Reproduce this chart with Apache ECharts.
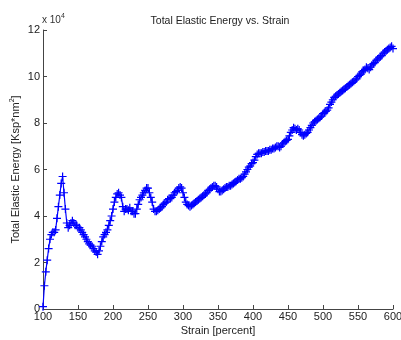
<!DOCTYPE html>
<html>
<head>
<meta charset="utf-8">
<script src="https://cdn.jsdelivr.net/npm/echarts@6/dist/echarts.min.js"></script>
<style>
  html, body { margin: 0; padding: 0; background: #fff; }
  #main { width: 401px; height: 340px; }
</style>
</head>
<body>
<div id="main"></div>
<script>
    // strain in percent, energy in units of 1e4 Ksp*nm^2
    var strain = [
        100,102,104,106,108,110,112,114,116,118,120,122,124,126,128,130,132,134,136,138,
        140,142,144,146,148,150,152,154,156,158,160,162,164,166,168,170,172,174,176,178,
        180,182,184,186,188,190,192,194,196,198,200,202,204,206,208,210,212,214,216,218,
        220,222,224,226,228,230,232,234,236,238,240,242,244,246,248,250,252,254,256,258,
        260,262,264,266,268,270,272,274,276,278,280,282,284,286,288,290,292,294,296,298,
        300,302,304,306,308,310,312,314,316,318,320,322,324,326,328,330,332,334,336,338,
        340,342,344,346,348,350,352,354,356,358,360,362,364,366,368,370,372,374,376,378,
        380,382,384,386,388,390,392,394,396,398,400,402,404,406,408,410,412,414,416,418,
        420,422,424,426,428,430,432,434,436,438,440,442,444,446,448,450,452,454,456,458,
        460,462,464,466,468,470,472,474,476,478,480,482,484,486,488,490,492,494,496,498,
        500,502,504,506,508,510,512,514,516,518,520,522,524,526,528,530,532,534,536,538,
        540,542,544,546,548,550,552,554,556,558,560,562,564,566,568,570,572,574,576,578,
        580,582,584,586,588,590,592,594,596,598,600
    ];
    var energy = [
        0.1,1.0,1.6,2.1,2.6,3.0,3.2,3.3,3.3,3.4,3.9,4.4,4.9,5.4,5.7,5.0,4.3,3.7,3.5,3.6,
        3.7,3.8,3.7,3.6,3.6,3.5,3.5,3.4,3.3,3.2,3.1,3.0,2.9,2.8,2.75,2.7,2.6,2.5,2.45,2.35,
        2.5,2.7,2.9,3.1,3.2,3.3,3.4,3.6,3.8,4.0,4.3,4.6,4.8,4.95,5.0,4.9,4.8,4.4,4.2,4.3,
        4.3,4.25,4.35,4.2,4.2,4.1,4.1,4.3,4.5,4.7,4.8,4.9,5.0,5.1,5.2,5.2,5.0,4.8,4.6,4.3,
        4.2,4.2,4.25,4.3,4.35,4.4,4.5,4.55,4.6,4.7,4.75,4.75,4.8,4.9,5.0,5.05,5.1,5.2,5.25,5.2,
        5.0,4.8,4.6,4.5,4.45,4.4,4.45,4.5,4.55,4.6,4.65,4.7,4.75,4.8,4.85,4.9,4.95,5.0,5.1,5.15,
        5.2,5.25,5.3,5.3,5.25,5.15,5.05,5.05,5.1,5.15,5.2,5.25,5.25,5.3,5.3,5.35,5.4,5.45,5.5,5.55,
        5.6,5.6,5.65,5.7,5.8,5.9,6.0,6.1,6.15,6.25,6.3,6.4,6.55,6.65,6.7,6.7,6.7,6.75,6.75,6.8,
        6.8,6.8,6.85,6.85,6.9,6.9,6.95,7.0,7.0,6.95,7.0,7.1,7.15,7.2,7.25,7.3,7.45,7.6,7.7,7.8,
        7.75,7.7,7.75,7.7,7.6,7.5,7.45,7.5,7.55,7.6,7.7,7.8,7.9,8.0,8.05,8.1,8.15,8.2,8.25,8.3,
        8.4,8.45,8.5,8.55,8.65,8.8,8.9,9.0,9.1,9.15,9.2,9.25,9.3,9.35,9.4,9.45,9.5,9.55,9.6,9.65,
        9.7,9.75,9.8,9.85,9.9,10.0,10.05,10.1,10.2,10.25,10.3,10.4,10.35,10.3,10.4,10.5,10.55,10.6,10.7,10.75,
        10.8,10.85,10.9,11.0,11.05,11.1,11.15,11.2,11.25,11.3,11.2
    ];

    var points = [];
    for (var i = 0; i < strain.length; i++) {
        points.push([strain[i], energy[i]]);
    }

    var font = 'Liberation Sans, Arial, sans-serif';
    var chart = echarts.init(document.getElementById('main'));
    chart.setOption({
        backgroundColor: '#ffffff',
        animation: false,
        title: {
            text: 'Total Elastic Energy vs. Strain',
            left: 215,
            textAlign: 'center',
            top: 11,
            textStyle: { fontFamily: font, fontSize: 10.5, fontWeight: 'normal', color: '#222' }
        },
        graphic: [{
            type: 'text',
            left: 42,
            top: 13,
            style: {
                text: '{a|x 10}{s|4}',
                rich: {
                    a: { fontFamily: font, fontSize: 10, fill: '#333' },
                    s: { fontFamily: font, fontSize: 7, fill: '#333', padding: [0, 0, 7, 0] }
                }
            }
        }],
        grid: { left: 43, right: 8, top: 30, bottom: 31, containLabel: false, outerBoundsMode: 'none' },
        xAxis: {
            type: 'value',
            min: 100,
            max: 600,
            interval: 50,
            name: 'Strain [percent]',
            nameLocation: 'middle',
            nameGap: 16,
            nameMoveOverlap: false,
            nameTextStyle: { fontFamily: font, fontSize: 11, color: '#222' },
            axisLine: { lineStyle: { color: '#444', width: 1 } },
            axisTick: { inside: true, length: 4, lineStyle: { color: '#444' } },
            axisLabel: { fontFamily: font, fontSize: 11, color: '#222', margin: 2 },
            splitLine: { show: false }
        },
        yAxis: {
            type: 'value',
            min: 0,
            max: 12,
            interval: 2,
            name: '{a|Total Elastic Energy [Ksp*nm}{s|2}{a|]}',
            nameLocation: 'middle',
            nameGap: 20,
            nameMoveOverlap: false,
            nameTextStyle: {
                rich: {
                    a: { fontFamily: font, fontSize: 11, color: '#222' },
                    s: { fontFamily: font, fontSize: 7, color: '#222', padding: [0, 0, 7, 0] }
                }
            },
            axisLine: { show: true, lineStyle: { color: '#444', width: 1 } },
            axisTick: { show: true, inside: true, length: 4, lineStyle: { color: '#444' } },
            axisLabel: { fontFamily: font, fontSize: 11, color: '#222', margin: 3 },
            splitLine: { show: false }
        },
        series: [{
            type: 'line',
            data: points,
            symbol: 'path://M0,-5L0,5M-5,0L5,0',
            symbolSize: 8,
            showAllSymbol: true,
            itemStyle: { color: '#0000ff', borderColor: '#0000ff', borderWidth: 1.2 },
            lineStyle: { color: '#0000ff', width: 1.2 }
        }]
    });
</script>
</body>
</html>
